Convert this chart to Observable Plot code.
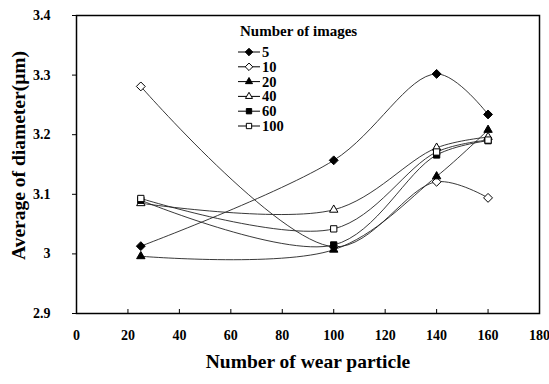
<!DOCTYPE html>
<html>
<head>
<meta charset="utf-8">
<script src="https://cdn.jsdelivr.net/npm/d3@7"></script>
<script src="https://cdn.jsdelivr.net/npm/@observablehq/plot@0.6"></script>
<style>
  html, body { margin: 0; padding: 0; background: #fff; }
  #chart { width: 549px; height: 384px; overflow: hidden; }
</style>
</head>
<body>
<div id="chart"></div>
<script>
// ---- data ----
const particles = [25, 100, 140, 160];
const seriesNames = ["5", "10", "20", "40", "60", "100"];
const s5   = [3.013, 3.157, 3.302, 3.234];
const s10  = [3.281, 3.012, 3.121, 3.094];
const s20  = [2.996, 3.007, 3.130, 3.208];
const s40  = [3.085, 3.074, 3.178, 3.196];
const s60  = [3.090, 3.015, 3.166, 3.190];
const s100 = [3.093, 3.042, 3.171, 3.191];
const seriesSymbols = ["diamond2", "diamond2", "triangle2", "triangle2", "square2", "square2"];
const seriesFilled  = [true, false, true, false, true, false];
const xTicks = [0, 20, 40, 60, 80, 100, 120, 140, 160, 180];
const yTicks = [2.9, 3, 3.1, 3.2, 3.3, 3.4];
const xTitle = "Number of wear particle";
const yTitle = "Average of diameter(\u03BCm)";
const legendTitle = "Number of images";

const seriesValues = [s5, s10, s20, s40, s60, s100];
const rows = [];
seriesNames.forEach((name, i) => {
  particles.forEach((p, j) => rows.push({series: name, x: p, y: seriesValues[i][j], filled: seriesFilled[i]}));
});

const font = "Liberation Serif";

const plot = Plot.plot({
  width: 549,
  height: 384,
  marginLeft: 76,
  marginRight: 10,
  marginTop: 15,
  marginBottom: 71,
  style: {fontFamily: font, fontWeight: "bold", fontSize: "14px", color: "#000", background: "#fff"},
  x: {domain: [0, 180]},
  y: {domain: [2.9, 3.4]},
  symbol: {domain: seriesNames, range: seriesSymbols},
  color: {type: "identity"},
  marks: [
    Plot.axisX(xTicks, {tickSize: 0, tickPadding: 17, tickFormat: d => String(d), label: null, fontSize: 14}),
    Plot.ruleX(xTicks.slice(1, -1), {insetTop: 294, stroke: "#000", strokeWidth: 1}),
    Plot.axisY(yTicks, {tickSize: 4, tickPadding: 22, tickFormat: d => String(d), label: null, fontSize: 14}),
    Plot.line(rows, {x: "x", y: "y", z: "series", curve: "catmull-rom", stroke: "#222", strokeWidth: 0.9}),
    Plot.dot(rows, {x: "x", y: "y", symbol: "series", r: 4, fill: d => d.filled ? "#000" : "#fff", stroke: "#000", strokeWidth: 1}),
    Plot.frame({stroke: "#000", strokeWidth: 1.5}),
    Plot.text([xTitle], {frameAnchor: "bottom", lineAnchor: "middle", textAnchor: "middle", dy: 48, text: d => d, fontSize: 19.5, fontWeight: "bold"}),
    Plot.text([yTitle], {frameAnchor: "left", lineAnchor: "middle", textAnchor: "middle", dx: -58, dy: -9, rotate: -90, text: d => d, fontSize: 19.5, fontWeight: "bold"})
  ]
});
document.getElementById("chart").appendChild(plot);

// ---- legend (inside the plot area, as in the reference) ----
const svg = d3.select(plot);
const lg = svg.append("g").attr("font-family", font).attr("font-weight", "bold").attr("text-anchor", "start");
lg.append("text").attr("x", 240).attr("y", 36).attr("font-size", 15).text(legendTitle);
const symMap = {diamond2: d3.symbolDiamond2, triangle2: d3.symbolTriangle2, square2: d3.symbolSquare2};
seriesNames.forEach((name, i) => {
  const cy = 52 + i * 14.8;
  const g = lg.append("g").attr("transform", `translate(0,${cy})`);
  g.append("line").attr("x1", 238).attr("x2", 260).attr("y1", 0).attr("y2", 0).attr("stroke", "#000").attr("stroke-width", 1);
  g.append("path").attr("transform", "translate(249,0)")
    .attr("d", d3.symbol(symMap[seriesSymbols[i]], 36)())
    .attr("fill", seriesFilled[i] ? "#000" : "#fff").attr("stroke", "#000").attr("stroke-width", 1);
  g.append("text").attr("x", 262).attr("y", 5).attr("font-size", 14.5).text(name);
});
</script>
</body>
</html>
